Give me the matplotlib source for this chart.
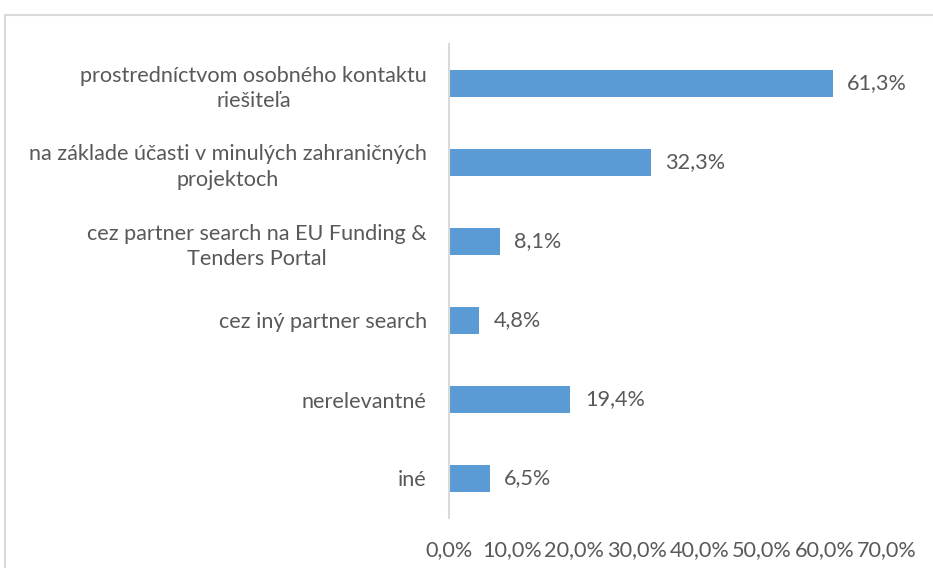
import matplotlib.pyplot as plt
from matplotlib.patches import Rectangle

plt.rcParams['font.family'] = ['Lato', 'DejaVu Sans']

categories = ['prostredníctvom osobného kontaktu\nriešiteľa',
              'na základe účasti v minulých zahraničných\nprojektoch',
              'cez partner search na EU Funding &\nTenders Portal',
              'cez iný partner search',
              'nerelevantné',
              'iné']
values = [61.3, 32.3, 8.1, 4.8, 19.4, 6.5]
xticks = [0, 10, 20, 30, 40, 50, 60, 70]

W, H = 933, 568
fig = plt.figure(figsize=(W / 100, H / 100), dpi=100)
ax = fig.add_axes([449 / W, 1 - 518 / H, (887 - 449) / W, (518 - 44) / H])

pos = list(range(len(categories)))
ax.barh(pos, values, height=0.34, color='#5B9BD5')
ax.set_ylim(len(categories) - 0.5, -0.5)
ax.set_xlim(0, 70)

grey = '#595959'
fs = 15.6
for p, v in zip(pos, values):
    ax.text(v + 2.3, p, f'{v:.1f}%'.replace('.', ','), va='center', ha='left',
            fontsize=fs, color=grey)

ax.set_yticks(pos)
ax.set_yticklabels(categories, fontsize=fs, color=grey, multialignment='center',
                   linespacing=1.35)
ax.tick_params(axis='y', length=0, pad=16)
ax.set_xticks(xticks)
ax.set_xticklabels([f'{t:.1f}%'.replace('.', ',') for t in xticks], fontsize=fs, color=grey)
ax.tick_params(axis='x', length=0, pad=16)

for s in ['top', 'right', 'bottom']:
    ax.spines[s].set_visible(False)
ax.spines['left'].set_color('#d9d9d9')
ax.spines['left'].set_linewidth(1.5)

fig.add_artist(Rectangle((5 / W, -0.1), 1.2, 1.1 - 15 / H, transform=fig.transFigure,
                         fill=False, edgecolor='#d9d9d9', linewidth=1.5))

fig.savefig('out.png', dpi=100)
